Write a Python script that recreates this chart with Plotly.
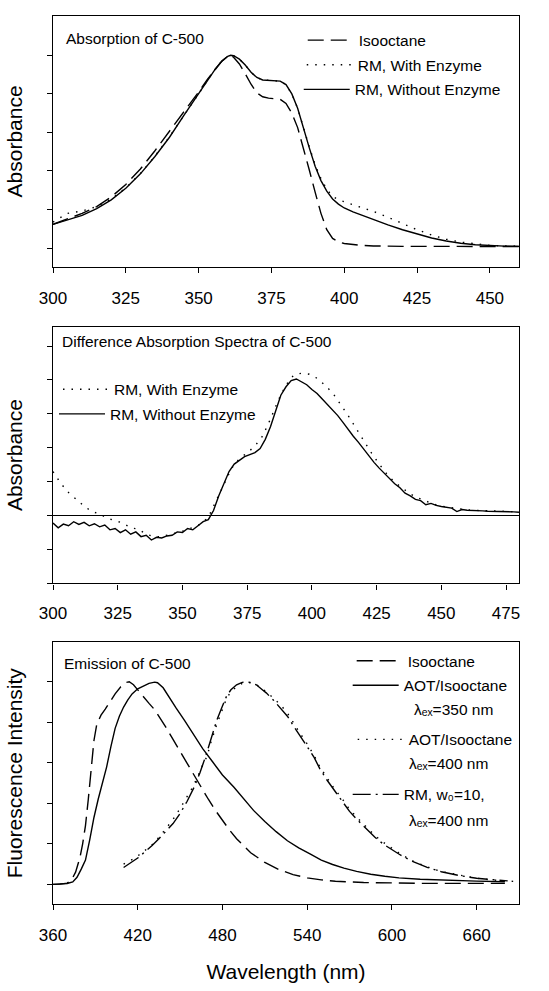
import plotly.graph_objects as go

# ---------------- data ----------------
# Panel 1: absorption of C-500
abs_x_iso = [300, 305, 310, 315, 320, 325, 330, 335, 340, 345, 350, 353, 356, 358, 360, 361, 362, 364, 366, 368,
             370, 372, 374, 376, 378, 380, 382, 384, 386, 388, 390, 392, 394, 396, 398, 400, 405, 410, 420, 430,
             440, 450, 460]
abs_y_iso = [0.123, 0.150, 0.180, 0.215, 0.265, 0.330, 0.410, 0.505, 0.605, 0.710, 0.810, 0.875, 0.935, 0.970, 0.995,
             1.000, 0.990, 0.955, 0.905, 0.850, 0.805, 0.785, 0.778, 0.776, 0.772, 0.750, 0.700, 0.625, 0.520, 0.405,
             0.290, 0.180, 0.095, 0.050, 0.032, 0.024, 0.015, 0.011, 0.009, 0.008, 0.008, 0.008, 0.008]

abs_x_rm = [300, 305, 310, 315, 320, 325, 330, 335, 340, 345, 350, 353, 356, 358, 360, 361, 362, 364, 366, 368,
            370, 372, 374, 376, 378, 380, 382, 384, 386, 388, 390, 392, 394, 396, 398, 400, 403, 406, 410, 415,
            420, 425, 430, 435, 440, 445, 450, 455, 460]
abs_y_noenz = [0.123, 0.145, 0.170, 0.205, 0.250, 0.310, 0.385, 0.475, 0.575, 0.690, 0.800, 0.870, 0.935, 0.970,
               0.995, 1.000, 0.998, 0.980, 0.950, 0.912, 0.885, 0.872, 0.869, 0.868, 0.866, 0.848, 0.800, 0.725,
               0.620, 0.520, 0.425, 0.350, 0.295, 0.255, 0.228, 0.208, 0.188, 0.170, 0.148, 0.120, 0.095, 0.072,
               0.052, 0.037, 0.025, 0.017, 0.012, 0.010, 0.009]
abs_y_enz = [0.135, 0.180, 0.192, 0.215, 0.255, 0.312, 0.387, 0.477, 0.577, 0.690, 0.800, 0.870, 0.935, 0.970,
             0.995, 1.000, 0.998, 0.980, 0.950, 0.912, 0.885, 0.872, 0.869, 0.868, 0.866, 0.848, 0.800, 0.725,
             0.622, 0.525, 0.432, 0.360, 0.305, 0.268, 0.250, 0.240, 0.225, 0.210, 0.190, 0.160, 0.126, 0.095,
             0.068, 0.046, 0.031, 0.021, 0.014, 0.011, 0.010]

# Panel 2: difference absorption spectra
dif_x_noenz = [300, 302, 304, 306, 308, 310, 312, 314, 316, 318, 320, 322, 324, 326, 328, 330, 332, 334, 336, 338,
               340, 342, 344, 346, 348, 350, 352, 354, 356, 358, 360, 362, 364, 366, 368, 370, 372, 374, 376, 378,
               380, 382, 384, 386, 388, 390, 392, 394, 396, 398, 400, 402, 404, 406, 408, 410, 412, 414, 416, 418,
               420, 422, 424, 426, 428, 430, 432, 434, 436, 438, 440, 442, 444, 446, 448, 450, 452, 454, 456, 458,
               460, 462, 464, 466, 468, 470, 472, 474, 476, 478, 480]
dif_y_noenz = [-0.22, -0.36, -0.25, -0.30, -0.18, -0.26, -0.20, -0.30, -0.24, -0.33, -0.28, -0.42, -0.38, -0.50,
               -0.42, -0.55, -0.48, -0.62, -0.58, -0.72, -0.64, -0.66, -0.60, -0.58, -0.48, -0.50, -0.38, -0.42,
               -0.30, -0.18, -0.12, 0.15, 0.58, 0.95, 1.30, 1.52, 1.62, 1.74, 1.80, 1.86, 1.98, 2.25, 2.62, 3.10,
               3.55, 3.80, 3.98, 4.03, 3.94, 3.86, 3.72, 3.60, 3.44, 3.28, 3.12, 2.95, 2.75, 2.54, 2.34, 2.16,
               1.96, 1.76, 1.57, 1.40, 1.24, 1.08, 0.94, 0.82, 0.66, 0.58, 0.48, 0.44, 0.32, 0.36, 0.30, 0.27,
               0.24, 0.22, 0.12, 0.18, 0.16, 0.16, 0.15, 0.14, 0.13, 0.13, 0.12, 0.12, 0.11, 0.11, 0.10]
dif_x_enz = [300, 303, 306, 309, 312, 315, 318, 321, 324, 327, 330, 333, 336, 339, 342, 345, 348, 351, 354, 357,
             360, 363, 366, 369, 372, 375, 378, 381, 384, 387, 390, 393, 396, 399, 402, 405, 408, 411, 414, 417,
             420, 423, 426, 429, 432, 435, 438, 441, 444, 447, 450, 455, 460, 465, 470, 475, 480]
dif_y_enz = [1.30, 0.95, 0.68, 0.48, 0.28, 0.12, 0.05, -0.08, -0.15, -0.22, -0.36, -0.40, -0.55, -0.62, -0.62,
             -0.56, -0.50, -0.44, -0.35, -0.25, -0.05, 0.45, 0.95, 1.40, 1.68, 1.85, 2.05, 2.35, 2.85, 3.40, 3.85,
             4.15, 4.20, 4.17, 4.05, 3.85, 3.62, 3.30, 2.95, 2.58, 2.20, 1.85, 1.52, 1.22, 0.98, 0.80, 0.64, 0.52,
             0.42, 0.34, 0.28, 0.22, 0.17, 0.15, 0.13, 0.12, 0.11]

# Panel 3: emission of C-500
em_x_iso = [360, 365, 370, 373, 376, 379, 381, 383, 385, 387, 389, 391, 394, 397, 400, 404, 408, 412, 414, 417,
            420, 424, 428, 432, 436, 440, 445, 450, 455, 460, 465, 470, 475, 480, 485, 490, 495, 500, 510, 520,
            530, 540, 550, 560, 580, 600, 620, 640, 660, 680]
em_y_iso = [0.0, 0.001, 0.006, 0.020, 0.060, 0.130, 0.200, 0.290, 0.420, 0.580, 0.710, 0.790, 0.835, 0.865, 0.900,
            0.940, 0.975, 0.997, 1.000, 0.985, 0.960, 0.925, 0.893, 0.862, 0.820, 0.775, 0.715, 0.655, 0.598, 0.540,
            0.480, 0.420, 0.365, 0.315, 0.268, 0.225, 0.188, 0.156, 0.108, 0.073, 0.048, 0.032, 0.022, 0.015, 0.009,
            0.006, 0.005, 0.005, 0.005, 0.005]
em_x_aot350 = [360, 365, 370, 374, 377, 380, 383, 386, 389, 392, 395, 398, 401, 404, 407, 410, 413, 416, 420, 424,
               428, 432, 434, 438, 442, 447, 453, 459, 466, 473, 480, 488, 495, 502, 510, 518, 526, 534, 542, 550,
               558, 566, 575, 585, 595, 605, 620, 640, 660, 680]
em_y_aot350 = [0.0, 0.001, 0.004, 0.012, 0.035, 0.075, 0.120, 0.220, 0.330, 0.420, 0.500, 0.580, 0.680, 0.770,
               0.830, 0.875, 0.910, 0.940, 0.965, 0.980, 0.992, 0.998, 0.995, 0.970, 0.925, 0.872, 0.810, 0.745,
               0.670, 0.605, 0.540, 0.480, 0.420, 0.365, 0.310, 0.260, 0.215, 0.180, 0.150, 0.120, 0.098, 0.080,
               0.064, 0.050, 0.040, 0.032, 0.025, 0.019, 0.016, 0.013]
em_x_aot400 = [410, 413, 417, 422, 427, 431, 436, 441, 445, 450, 455, 459, 463, 466, 469, 472, 476, 480, 483, 486,
               490, 494, 497, 500, 504, 508, 511, 516, 521, 526, 530, 535, 540, 545, 549, 554, 559, 565, 570, 576,
               582, 588, 594, 600, 606, 615, 625, 635, 648, 660, 672, 690]
em_y_aot400 = [0.100, 0.110, 0.126, 0.150, 0.177, 0.200, 0.240, 0.285, 0.320, 0.375, 0.430, 0.480, 0.540, 0.590,
               0.630, 0.705, 0.790, 0.865, 0.919, 0.950, 0.976, 0.992, 0.997, 0.995, 0.987, 0.965, 0.951, 0.920,
               0.887, 0.845, 0.798, 0.745, 0.693, 0.635, 0.579, 0.525, 0.474, 0.420, 0.369, 0.325, 0.280, 0.240,
               0.207, 0.178, 0.150, 0.115, 0.086, 0.063, 0.045, 0.030, 0.021, 0.013]
em_x_rm = [410, 415, 420, 425, 430, 435, 440, 445, 450, 455, 460, 464, 468, 472, 476, 480, 483, 486, 490, 494,
           497, 500, 504, 508, 511, 516, 521, 526, 530, 535, 540, 545, 549, 554, 559, 565, 570, 576, 582, 588,
           594, 600, 606, 615, 625, 635, 648, 660, 672, 682]
em_y_rm = [0.083, 0.105, 0.130, 0.160, 0.190, 0.225, 0.260, 0.300, 0.350, 0.410, 0.480, 0.550, 0.630, 0.720, 0.810,
           0.880, 0.930, 0.960, 0.985, 0.997, 1.000, 0.996, 0.985, 0.962, 0.945, 0.910, 0.870, 0.830, 0.785, 0.735,
           0.680, 0.625, 0.570, 0.515, 0.465, 0.410, 0.360, 0.315, 0.272, 0.232, 0.198, 0.170, 0.145, 0.112, 0.084,
           0.062, 0.043, 0.030, 0.022, 0.017]

# tick values
top_xticks = [300, 325, 350, 375, 400, 425, 450]
mid_xticks = [300, 325, 350, 375, 400, 425, 450, 475]
bot_xticks = [360, 420, 480, 540, 600, 660]
top_yticks = [0, 0.2, 0.4, 0.6, 0.8, 1.0]
mid_yticks = [-2, -1, 0, 1, 2, 3, 4, 5]
bot_yticks = [0, 0.2, 0.4, 0.6, 0.8, 1.0]

# ---------------- layout helpers ----------------
W, H = 549, 991
PLOT_L, PLOT_R, PLOT_T, PLOT_B = 53, 519.5, 16, 919          # page pixels
ML, MR, MT, MB = PLOT_L, W - PLOT_R, PLOT_T, H - PLOT_B
PW, PH = PLOT_R - PLOT_L, PLOT_B - PLOT_T


def px(xp):
    return (xp - PLOT_L) / PW


def py(yp):
    return (PLOT_B - yp) / PH


FONT = "Arial, 'Liberation Sans', 'DejaVu Sans', sans-serif"
LW = 1.4
DASH_LONG = "16px,7px"
DOT = "1.5px,7px"
DASHDOT = "18px,5px,2px,5px"

fig = go.Figure()


def add(x, y, name, dash, xa, ya, legend):
    fig.add_trace(go.Scatter(x=x, y=y, name=name, mode="lines", xaxis=xa, yaxis=ya, legend=legend,
                             showlegend=True, hoverinfo="skip",
                             line=dict(color="black", width=LW, dash=dash)))


# panel 1
add(abs_x_iso, abs_y_iso, "Isooctane", DASH_LONG, "x", "y", "legend")
add(abs_x_rm, abs_y_enz, "RM, With Enzyme", DOT, "x", "y", "legend2")
add(abs_x_rm, abs_y_noenz, "RM, Without Enzyme", "solid", "x", "y", "legend3")
# panel 2
add(dif_x_enz, dif_y_enz, "RM, With Enzyme", DOT, "x2", "y2", "legend4")
add(dif_x_noenz, dif_y_noenz, "RM, Without Enzyme", "solid", "x2", "y2", "legend5")
# panel 3
add(em_x_iso, em_y_iso, "Isooctane", DASH_LONG, "x3", "y3", "legend6")
add(em_x_aot350, em_y_aot350, "AOT/Isooctane", "solid", "x3", "y3", "legend7")
add(em_x_aot400, em_y_aot400, "AOT/Isooctane", DOT, "x3", "y3", "legend8")
add(em_x_rm, em_y_rm, "RM, w₀=10,", DASHDOT, "x3", "y3", "legend9")

axis_common = dict(showline=True, linecolor="black", linewidth=1.3, mirror=True, ticks="outside",
                   ticklen=5, tickwidth=1.3, tickcolor="black", showgrid=False, zeroline=False,
                   tickfont=dict(family=FONT, size=17, color="black"))
TITLE_FONT = dict(family=FONT, size=21, color="black")

layout = dict(
    width=W, height=H, margin=dict(l=ML, r=MR, t=MT, b=MB),
    paper_bgcolor="white", plot_bgcolor="white", showlegend=True,
    font=dict(family=FONT, color="black"),
    xaxis=dict(domain=[0, 1], anchor="y", range=[300, 460], tickvals=top_xticks, ticklabelstandoff=11,
               **axis_common),
    yaxis=dict(domain=[py(271), py(16)], anchor="x", range=[-0.097, 1.204], tickvals=top_yticks,
               showticklabels=False, title=dict(text="Absorbance", font=TITLE_FONT, standoff=18), **axis_common),
    xaxis2=dict(domain=[0, 1], anchor="y2", range=[300, 480], tickvals=mid_xticks, ticklabelstandoff=9,
                **axis_common),
    yaxis2=dict(domain=[py(593), py(332)], anchor="x2", range=[-2, 5.57], tickvals=mid_yticks,
                showticklabels=False, title=dict(text="Absorbance", font=TITLE_FONT, standoff=18),
                **{**axis_common, "zeroline": True}, zerolinecolor="black", zerolinewidth=1.3),
    xaxis3=dict(domain=[0, 1], anchor="y3", range=[360, 690], tickvals=bot_xticks, ticklabelstandoff=10,
                title=dict(text="Wavelength (nm)", font=TITLE_FONT, standoff=20), **axis_common),
    yaxis3=dict(domain=[0, py(653)], anchor="x3", range=[-0.097, 1.194], tickvals=bot_yticks,
                showticklabels=False,
                title=dict(text="Fluorescence Intensity", font=TITLE_FONT, standoff=18), **axis_common),
)


def leg(text_left, ycenter):
    # legend box left edge = text start - symbol area
    return dict(x=px(text_left - 57), y=py(ycenter), xanchor="left", yanchor="middle",
                bgcolor="rgba(0,0,0,0)", borderwidth=0, itemwidth=46,
                font=dict(family=FONT, size=15.5, color="black"))


layout["legend"] = leg(360, 41)
layout["legend2"] = leg(359, 66)
layout["legend3"] = leg(356, 91)
layout["legend4"] = leg(115, 396)
layout["legend5"] = leg(111, 421)
layout["legend6"] = leg(409, 672)
layout["legend7"] = leg(405, 697)
layout["legend8"] = leg(410, 752)
layout["legend9"] = leg(405, 808)

fig.update_layout(**layout)


def note(text, xpix, ypix):
    fig.add_annotation(text=text, xref="paper", yref="paper", x=px(xpix), y=py(ypix), xanchor="left",
                       yanchor="middle", showarrow=False, font=dict(family=FONT, size=15.5, color="black"))


note("Absorption of C-500", 64, 39)
note("Difference Absorption Spectra of C-500", 60, 347)
note("Emission of C-500", 62, 674)
note("λₑₓ=350 nm", 412, 721)
note("λₑₓ=400 nm", 407, 776)
note("λₑₓ=400 nm", 407, 834)

# remove the browser's default 8px page margin so the figure fills the window exactly
fig.write_html("out.html", config={"displayModeBar": False},
               post_script="document.body.style.margin='0';")
